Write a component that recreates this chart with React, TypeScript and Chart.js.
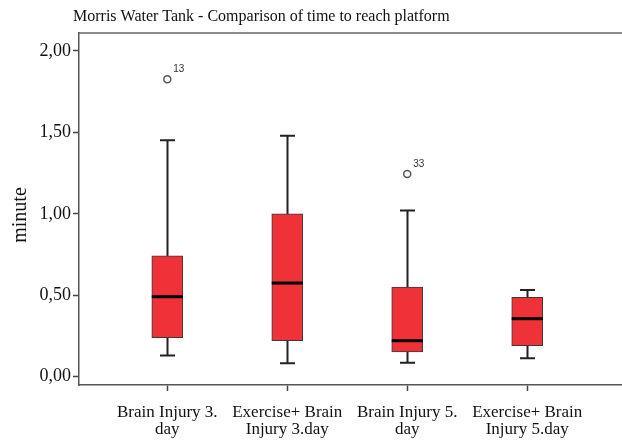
import React, { useEffect, useRef } from "react";
import { Chart, registerables } from "chart.js";
Chart.register(...registerables);

const chartTitle = "Morris Water Tank - Comparison of time to reach platform";
const yAxisTitle = "minute";
const categories: string[][] = [
  ["Brain Injury 3.", "day"],
  ["Exercise+ Brain", "Injury 3.day"],
  ["Brain Injury 5.", "day"],
  ["Exercise+ Brain", "Injury 5.day"],
];
const whiskerLow = [0.13, 0.082, 0.086, 0.113];
const q1 = [0.239, 0.221, 0.152, 0.19];
const median = [0.491, 0.575, 0.221, 0.356];
const q3 = [0.742, 1.0, 0.55, 0.487];
const whiskerHigh = [1.452, 1.479, 1.021, 0.532];
const outlierGroup = [0, 2];
const outlierValue = [1.826, 1.244];
const outlierLabel = ["13", "33"];
const yTicks = [0, 0.5, 1, 1.5, 2];

const boxPlugin = {
  id: "boxParts",
  beforeDatasetsDraw(chart: any) {
    const xs = chart.scales.x;
    const ys = chart.scales.y;
    const ctx = chart.ctx;
    ctx.save();
    ctx.strokeStyle = "#222";
    ctx.lineWidth = 2;
    for (let i = 0; i < categories.length; i++) {
      const px = Math.round(xs.getPixelForValue(i)) + 0.5;
      const lo = ys.getPixelForValue(whiskerLow[i]);
      const hi = ys.getPixelForValue(whiskerHigh[i]);
      ctx.beginPath();
      ctx.moveTo(px, lo);
      ctx.lineTo(px, hi);
      ctx.moveTo(px - 7.5, lo);
      ctx.lineTo(px + 7.5, lo);
      ctx.moveTo(px - 7.5, hi);
      ctx.lineTo(px + 7.5, hi);
      ctx.stroke();
    }
    ctx.restore();
  },
  afterDatasetsDraw(chart: any) {
    const xs = chart.scales.x;
    const ys = chart.scales.y;
    const ctx = chart.ctx;
    const meta = chart.getDatasetMeta(0);
    ctx.save();
    ctx.strokeStyle = "#000";
    ctx.lineWidth = 3;
    for (let i = 0; i < categories.length; i++) {
      const bar = meta.data[i];
      const half = bar.width / 2;
      const px = xs.getPixelForValue(i);
      const my = ys.getPixelForValue(median[i]);
      ctx.beginPath();
      ctx.moveTo(px - half, my);
      ctx.lineTo(px + half, my);
      ctx.stroke();
    }
    ctx.fillStyle = "#333";
    ctx.font = "10px 'Liberation Sans', Arial, sans-serif";
    ctx.textAlign = "left";
    ctx.textBaseline = "alphabetic";
    const ometa = chart.getDatasetMeta(1);
    ometa.data.forEach((pt: any, k: number) => {
      ctx.fillText(outlierLabel[k], pt.x + 6, pt.y - 7);
    });
    ctx.restore();
  },
  afterDraw(chart: any) {
    const ctx = chart.ctx;
    const a = chart.chartArea;
    ctx.save();
    ctx.strokeStyle = "#666";
    ctx.lineWidth = 1.5;
    ctx.beginPath();
    ctx.moveTo(a.left, a.top);
    ctx.lineTo(a.right, a.top);
    ctx.stroke();
    ctx.fillStyle = "#111";
    ctx.font = "16px 'Liberation Serif', 'Times New Roman', serif";
    ctx.textAlign = "left";
    ctx.textBaseline = "alphabetic";
    ctx.fillText(chartTitle, 73, 21);
    ctx.translate(21, 215);
    ctx.rotate(-Math.PI / 2);
    ctx.font = "20px 'Liberation Serif', 'Times New Roman', serif";
    ctx.textAlign = "center";
    ctx.textBaseline = "middle";
    ctx.fillText(yAxisTitle, 0, 0);
    ctx.restore();
  },
};

export default function App() {
  const ref = useRef<HTMLCanvasElement>(null);
  useEffect(() => {
    if (!ref.current) return;
    const chart = new Chart(ref.current, {
      type: "bar",
      data: {
        datasets: [
          {
            type: "bar",
            data: categories.map((_, i) => ({ x: i, y: [q1[i], q3[i]] })) as any,
            backgroundColor: "#ee3238",
            borderColor: "#3a3a3a",
            borderWidth: 1,
            borderSkipped: false,
            barThickness: 31,
          } as any,
          {
            type: "scatter",
            data: outlierGroup.map((g, k) => ({ x: g, y: outlierValue[k] })),
            pointRadius: 3.5,
            pointHoverRadius: 3.5,
            pointBorderWidth: 1.5,
            borderColor: "#555",
            backgroundColor: "#fff",
            pointBackgroundColor: "#fff",
            pointBorderColor: "#555",
          } as any,
        ],
      },
      options: {
        animation: false,
        responsive: false,
        layout: { autoPadding: false, padding: { top: 33, right: 0, left: 0, bottom: 0 } },
        plugins: { legend: { display: false }, tooltip: { enabled: false }, title: { display: false } },
        scales: {
          x: {
            type: "linear",
            offset: false,
            min: -0.736,
            max: 3.79,
            afterBuildTicks: (s: any) => {
              s.ticks = categories.map((_, i) => ({ value: i }));
            },
            afterFit: (s: any) => {
              s.height = 55;
              s.paddingLeft = 0;
              s.paddingRight = 0;
            },
            ticks: {
              autoSkip: false,
              maxRotation: 0,
              padding: 13,
              color: "#111",
              font: { family: "'Liberation Serif', 'Times New Roman', serif", size: 17, lineHeight: 1.0 },
              callback: (v: any) => categories[Math.round(v)],
            },
            grid: { offset: false, drawOnChartArea: false, drawTicks: true, tickLength: 6, tickColor: "#444", tickWidth: 1.5 },
            border: { color: "#555", width: 1.5 },
          },
          y: {
            type: "linear",
            min: -0.051,
            max: 2.11,
            afterBuildTicks: (s: any) => {
              s.ticks = yTicks.map((v) => ({ value: v }));
            },
            afterFit: (s: any) => {
              s.width = 79;
            },
            ticks: {
              padding: 2,
              color: "#111",
              font: { family: "'Liberation Serif', 'Times New Roman', serif", size: 18 },
              callback: (v: any) => Number(v).toFixed(2).replace(".", ","),
            },
            grid: { drawOnChartArea: false, drawTicks: true, tickLength: 6, tickColor: "#444", tickWidth: 1.5 },
            border: { color: "#555", width: 1.5 },
          },
        },
      } as any,
      plugins: [boxPlugin],
    });
    return () => chart.destroy();
  }, []);
  return (
    <div style={{ position: "absolute", left: 0, top: 0, width: 622, height: 440, background: "#fff" }}>
      <canvas ref={ref} width={622} height={440} style={{ display: "block" }} />
    </div>
  );
}
